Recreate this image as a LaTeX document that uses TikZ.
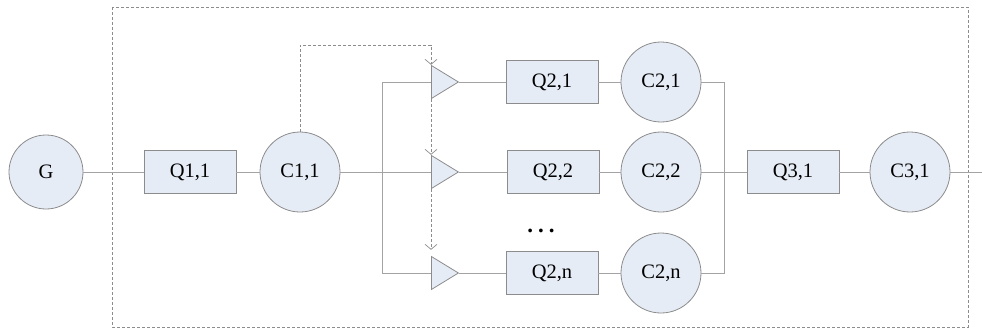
\documentclass[tikz,border=0pt]{standalone}
\usepackage{fontspec}
\setmainfont{Liberation Serif}
\usetikzlibrary{shapes.geometric,arrows.meta,calc}
\definecolor{fillb}{HTML}{E6ECF6}
\definecolor{edge}{HTML}{8C8C8C}
\definecolor{wire}{HTML}{A3A3A3}
\begin{document}
\begin{tikzpicture}[x=1pt,y=-1pt,
  every node/.style={font=\fontsize{20.5}{24}\selectfont},
  circ/.style={circle,draw=edge,fill=fillb,line width=0.8pt,minimum size=80pt,inner sep=0pt},
  qbox/.style={rectangle,draw=edge,fill=fillb,line width=0.8pt,minimum width=92pt,minimum height=43pt,inner sep=0pt},
  amp/.style={isosceles triangle,isosceles triangle stretches,draw=edge,fill=fillb,line width=0.8pt,minimum width=33pt,minimum height=27pt,inner sep=0pt,anchor=lower side},
  wirel/.style={draw=wire,line width=0.9pt},
  ctrl/.style={draw=edge,line width=0.7pt,dash pattern=on 3pt off 2pt},
  ctrlarrow/.style={ctrl,-{Straight Barb[length=5pt,width=12pt,line width=0.7pt]}},
  frame/.style={draw=edge,line width=0.6pt,dash pattern=on 3pt off 2pt}]
\useasboundingbox (0,0) rectangle (982,329);
% frame
\draw[frame] (112,7) rectangle (968,327);
% nodes
\node[circ,minimum size=74pt] (g) at (46,172) {G};
\node[qbox] (q11) at (190,172) {Q1,1};
\node[circ] (c11) at (300,172) {C1,1};
\node[amp] (t1) at (431,82) {};
\node[amp] (t2) at (431,172) {};
\node[amp] (t3) at (431,273) {};
\node[qbox] (q21) at (552,82) {Q2,1};
\node[qbox] (q22) at (553,172) {Q2,2};
\node[qbox] (q2n) at (552,273) {Q2,n};
\node[circ] (c21) at (661,82) {C2,1};
\node[circ] (c22) at (661,172) {C2,2};
\node[circ] (c2n) at (661,273) {C2,n};
\node[font=\bfseries\fontsize{23}{24}\selectfont] (dots) at (541,231) {.\hspace{5pt}.\hspace{5pt}.};
\node[qbox] (q31) at (793,172) {Q3,1};
\node[circ] (c31) at (910,172) {C3,1};
% coordinates
\coordinate (b1) at (382,82);
\coordinate (b3) at (382,273);
\coordinate (m1) at (724,82);
\coordinate (m3) at (724,273);
\coordinate (out) at (982,172);
\coordinate (fb1) at (300,45);
\coordinate (fb2) at (t1.left corner |- fb1);
% wires
\draw[wirel] (g.east) -- (q11.west);
\draw[wirel] (q11.east) -- (c11.west);
\draw[wirel] (c11.east) -- (t2.lower side);
\draw[wirel] (t1.lower side) -- (b1) -- (b3) -- (t3.lower side);
\draw[wirel] (t1.apex) -- (q21.west);
\draw[wirel] (t2.apex) -- (q22.west);
\draw[wirel] (t3.apex) -- (q2n.west);
\draw[wirel] (q21.east) -- (c21.west);
\draw[wirel] (q22.east) -- (c22.west);
\draw[wirel] (q2n.east) -- (c2n.west);
\draw[wirel] (c21.east) -- (m1) -- (m3) -- (c2n.east);
\draw[wirel] (c22.east) -- (q31.west);
\draw[wirel] (q31.east) -- (c31.west);
\draw[wirel] (c31.east) -- (out);
% control (dashed)
\draw[ctrlarrow] (c11.north) -- (fb1) -- (fb2) -- (t1.left corner);
\draw[ctrlarrow] (t1.right corner) -- (t2.left corner);
\draw[ctrlarrow] (t2.right corner) -- ($(t3.left corner)+(0,-6)$);
\end{tikzpicture}
\end{document}
